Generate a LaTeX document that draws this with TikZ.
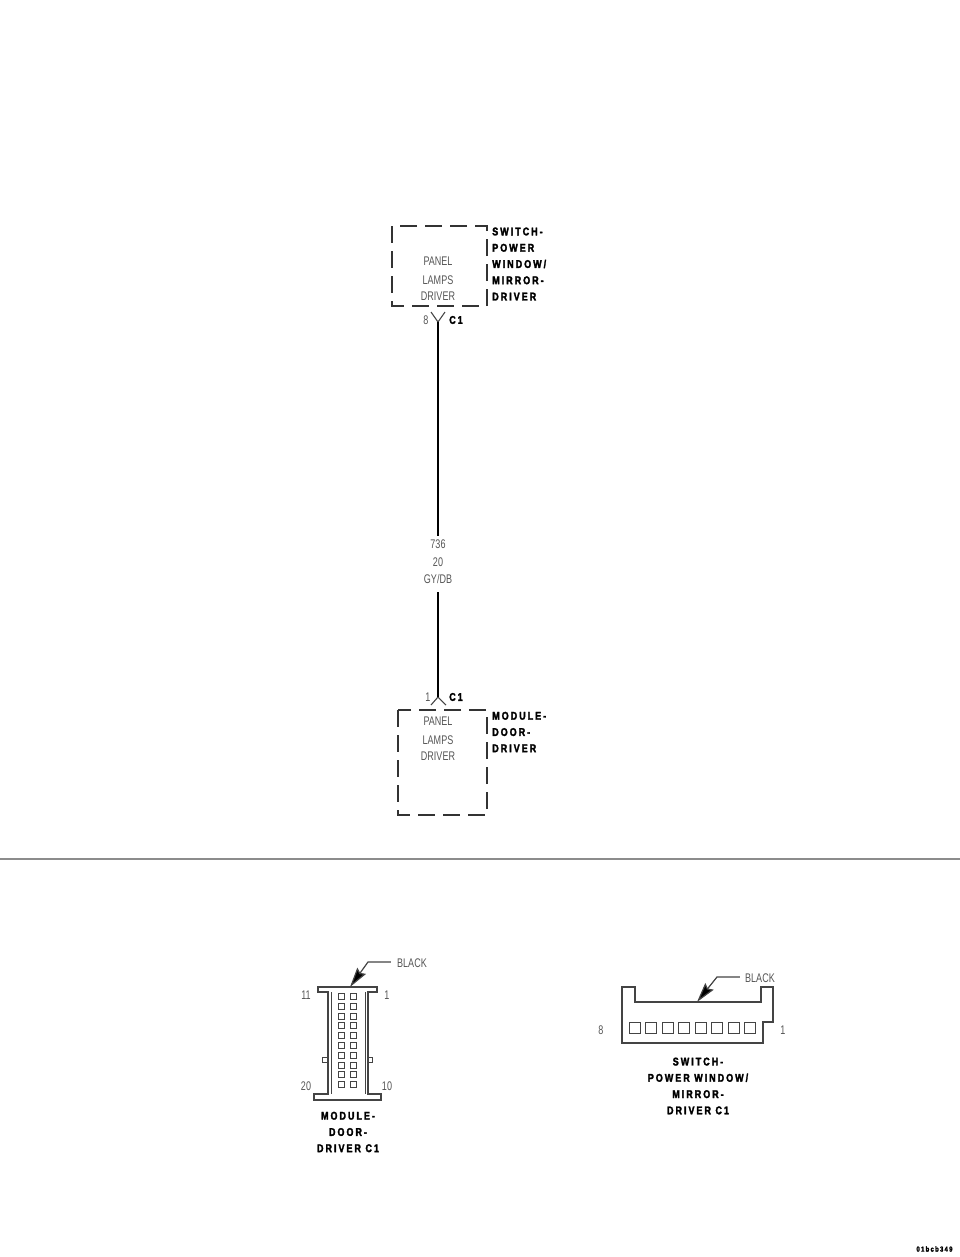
\documentclass[tikz,border=0pt]{standalone}
\usepackage{fontspec}
\usepackage{xcolor}
\usepackage{tikz}
\usetikzlibrary{arrows.meta}
\newfontfamily\thinfont[FakeStretch=0.72]{Liberation Sans}
\newfontfamily\heavyfont[FakeStretch=0.8,LetterSpace=18,FakeBold=2.4]{Liberation Sans Bold}
\definecolor{inkgray}{HTML}{555555}
\definecolor{linegray}{HTML}{444444}
\tikzset{
    thinlabel/.style={inner sep=0pt, text=inkgray, font=\thinfont\fontsize{9.4}{12.75}\selectfont, align=center},
    heavylabel/.style={inner sep=0pt, text=black, font=\heavyfont\fontsize{8.4}{12.2}\selectfont},
    heavyleft/.style={heavylabel, anchor=west, align=left},
    heavymid/.style={heavylabel, align=center},
    dashbox/.style={draw=black!80, line width=1.4pt, dash pattern=on 12.75pt off 6pt},
    wire/.style={draw=black, line width=2.1pt},
    forkline/.style={draw=linegray, line width=0.8pt},
    outline/.style={draw=linegray, line width=0.85pt},
    pin/.style={draw=linegray, line width=0.7pt},
    leader/.style={draw=linegray, line width=0.9pt, -{Stealth[length=15pt, width=8pt, inset=2pt, fill=black]}}
}

\begin{document}
\begin{tikzpicture}[x=0.75pt, y=-0.75pt]
    \useasboundingbox (0,0) rectangle (960,1257);

    \draw[dashbox] (392,226) rectangle (487,306);
    \node[thinlabel] (paneltop) at (438,261) {PANEL};
    \node[thinlabel] (lampstop) at (438,280) {LAMPS};
    \node[thinlabel] (drivertop) at (438,296) {DRIVER};
    \node[heavyleft] (switchname) at (492,264) {SWITCH-\\POWER\\WINDOW/\\MIRROR-\\DRIVER};

    \coordinate (forktop) at (438,322);
    \coordinate (forkbot) at (438,697);
    \coordinate (gaptop) at (438,536);
    \coordinate (gapbot) at (438,592);
    \node[thinlabel] (pintop) at (426,320) {8};
    \node[heavylabel] (ctop) at (456,320) {C1};
    \node[thinlabel] (pinbot) at (428,697) {1};
    \node[heavylabel] (cbot) at (456,697) {C1};
    \draw[forkline] (431,312) -- (forktop) -- (445,312);
    \draw[forkline] (431,705) -- (forkbot) -- (446,705);

    \node[thinlabel] (wirenum) at (438,544) {736};
    \node[thinlabel] (wiregauge) at (438,562) {20};
    \node[thinlabel] (wirecolor) at (438,579) {GY/DB};
    \draw[wire] (forktop) -- (gaptop);
    \draw[wire] (gapbot) -- (forkbot);

    \draw[dashbox] (398,710) rectangle (487,815);
    \node[thinlabel] (panelbot) at (438,721) {PANEL};
    \node[thinlabel] (lampsbot) at (438,740) {LAMPS};
    \node[thinlabel] (driverbot) at (438,756) {DRIVER};
    \node[heavyleft] (modulename) at (492,732) {MODULE-\\DOOR-\\DRIVER};

    \draw[draw=black!45, line width=1.5pt] (0,859) -- (960,859);

    \draw[outline] (328,992) -- (318,992) -- (318,987) -- (377,987) -- (377,992) -- (368,992) -- (368,1094) -- (381,1094) -- (381,1100) -- (314,1100) -- (314,1094) -- (328,1094) -- cycle;
    \draw[pin] (331,992) -- (331,1094);
    \draw[pin] (365,992) -- (365,1094);
    \draw[pin] (328,1057) -- (322,1057) -- (322,1062) -- (328,1062);
    \draw[pin] (368,1057) -- (372,1057) -- (372,1062) -- (368,1062);
    \foreach \row in {0,...,9} {
        \draw[pin] (338,{993.5+9.8*\row}) rectangle (344,{999.5+9.8*\row});
        \draw[pin] (350,{993.5+9.8*\row}) rectangle (356,{999.5+9.8*\row});
    }
    \node[thinlabel] (blackleft) at (412,963) {BLACK};
    \coordinate (tipleft) at (350,987);
    \draw[leader] (blackleft.west) ++(-6,-1) -- (368,962) -- (tipleft);
    \node[thinlabel] (pin11) at (306,995) {11};
    \node[thinlabel] (pin1) at (387,995) {1};
    \node[thinlabel] (pin20) at (306,1086) {20};
    \node[thinlabel] (pin10) at (387,1086) {10};
    \node[heavymid] (moduletitle) at (348,1132) {MODULE-\\DOOR-\\DRIVER C1};

    \draw[outline] (622,987) -- (635,987) -- (635,1002) -- (761,1002) -- (761,987) -- (773,987) -- (773,1022) -- (763,1022) -- (763,1043) -- (622,1043) -- cycle;
    \foreach \col in {0,...,7} {
        \draw[pin] ({629+16.5*\col},1022) rectangle ({640+16.5*\col},1033);
    }
    \node[thinlabel] (blackright) at (760,978) {BLACK};
    \coordinate (tipright) at (697,1002);
    \draw[leader] (blackright.west) ++(-5,-1) -- (717,977) -- (tipright);
    \node[thinlabel] (pin8) at (601,1030) {8};
    \node[thinlabel] (pin1b) at (783,1030) {1};
    \node[heavymid] (switchtitle) at (698,1086) {SWITCH-\\POWER WINDOW/\\MIRROR-\\DRIVER C1};

    \node[heavylabel, font=\heavyfont\fontsize{5.5}{6}\selectfont] (figcode) at (934.5,1249) {01bcb349};
\end{tikzpicture}
\end{document}
